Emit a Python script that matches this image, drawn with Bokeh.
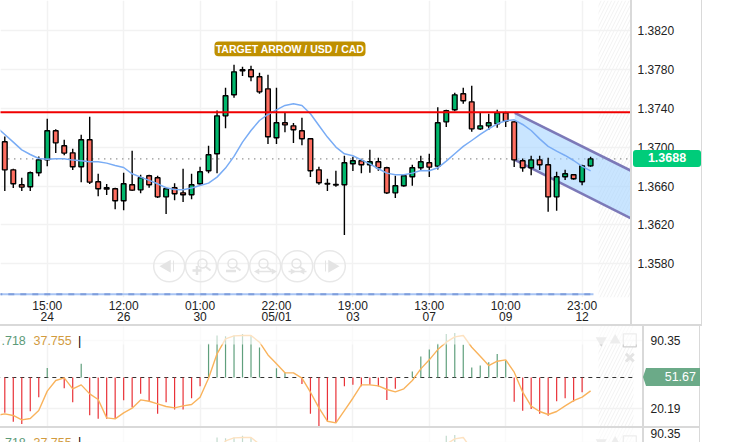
from bokeh.plotting import figure
from bokeh.embed import file_html
from bokeh.resources import INLINE
from bokeh.models import Range1d, FixedTicker, NumeralTickFormatter, BoxAnnotation, Label, Div

highs = [1.37111,1.36778,1.36685,1.36750,1.36905,1.37293,1.37186,1.37076,1.36984,1.37128,
         1.37313,1.36726,1.36620,1.36582,1.36737,1.36963,1.36716,1.36716,1.36706,1.36582,
         1.36630,1.36778,1.36726,1.36798,1.37015,1.37378,1.37612,1.37849,1.37828,1.37838,
         1.37766,1.37746,1.37612,1.37351,1.37248,1.37303,1.37093,1.36798,1.36675,1.36757,
         1.36912,1.36901,1.36881,1.36973,1.36891,1.36798,1.36706,1.36716,1.36819,1.36912,
         1.36932,1.37412,1.37385,1.37560,1.37612,1.37632,1.37354,1.37344,1.37385,1.37364,
         1.37268,1.36884,1.36911,1.36911,1.36891,1.36747,1.36767,1.36716,1.36819,1.36901]
lows = [1.36548,1.36579,1.36548,1.36548,1.36702,1.36805,1.36939,1.36918,1.36764,1.36640,
        1.36620,1.36496,1.36507,1.36362,1.36352,1.36548,1.36527,1.36582,1.36476,1.36311,
        1.36455,1.36435,1.36465,1.36613,1.36733,1.36733,1.37196,1.37509,1.37732,1.37680,
        1.37550,1.37032,1.37032,1.37155,1.37042,1.37021,1.36692,1.36613,1.36548,1.36592,
        1.36095,1.36754,1.36733,1.36737,1.36757,1.36517,1.36476,1.36592,1.36603,1.36757,
        1.36692,1.36771,1.37207,1.37371,1.37447,1.37159,1.37176,1.37176,1.37200,1.37207,
        1.36795,1.36747,1.36712,1.36764,1.36335,1.36345,1.36661,1.36664,1.36609,1.36798]
opens = [1.37056,1.36767,1.36613,1.36592,1.36737,1.36870,1.37169,1.37015,1.36942,1.36798,
         1.37076,1.36644,1.36582,1.36572,1.36448,1.36613,1.36561,1.36706,1.36685,1.36489,
         1.36582,1.36530,1.36510,1.36623,1.36757,1.36932,1.37323,1.37540,1.37797,1.37797,
         1.37725,1.37601,1.37097,1.37251,1.37220,1.37169,1.37087,1.36767,1.36627,1.36616,
         1.36613,1.36829,1.36860,1.36819,1.36850,1.36788,1.36530,1.36603,1.36695,1.36788,
         1.36840,1.36805,1.37261,1.37385,1.37550,1.37467,1.37189,1.37220,1.37241,1.37354,
         1.37261,1.36860,1.36788,1.36870,1.36819,1.36489,1.36695,1.36716,1.36644,1.36808]
closes = [1.36767,1.36623,1.36589,1.36737,1.36870,1.37169,1.37045,1.36939,1.36798,1.37076,
          1.36640,1.36572,1.36568,1.36448,1.36623,1.36558,1.36685,1.36613,1.36489,1.36572,
          1.36520,1.36510,1.36613,1.36747,1.36922,1.37323,1.37529,1.37776,1.37787,1.37725,
          1.37570,1.37107,1.37251,1.37230,1.37179,1.37087,1.36757,1.36634,1.36620,1.36610,
          1.36840,1.36860,1.36819,1.36850,1.36788,1.36530,1.36603,1.36706,1.36788,1.36850,
          1.36795,1.37251,1.37375,1.37539,1.37478,1.37189,1.37220,1.37251,1.37354,1.37268,
          1.36870,1.36788,1.36870,1.36819,1.36489,1.36695,1.36726,1.36675,1.36808,1.36880]
moving_avg = [1.37210,1.37131,1.37052,1.36973,1.36925,1.36884,1.36877,1.36881,1.36881,1.36867,1.36860,
              1.36850,1.36850,1.36836,1.36812,1.36791,1.36726,1.36692,1.36658,1.36623,1.36582,
              1.36565,1.36561,1.36579,1.36606,1.36630,1.36692,1.36785,1.36905,1.37052,1.37172,
              1.37275,1.37337,1.37385,1.37430,1.37447,1.37430,1.37344,1.37224,1.37104,1.37001,
              1.36932,1.36912,1.36870,1.36829,1.36778,1.36733,1.36716,1.36716,1.36733,1.36760,
              1.36757,1.36788,1.36856,1.36932,1.37008,1.37069,1.37131,1.37189,1.37241,1.37272,
              1.37282,1.37234,1.37172,1.37086,1.37008,1.36959,1.36915,1.36863,1.36802,1.36757]
oscillator = [15.2,6.0,3.8,16.9,31.4,61.6,51.67,40.6,26.2,65.8,
              12.8,9.0,9.0,9.0,28.3,21.1,34.8,27.2,14.2,26.2,
              18.6,18.6,30.3,42.7,86.4,95.0,94.3,95.0,96.7,95.0,
              82.6,51.67,61.3,57.2,51.67,45.1,14.2,1.4,6.3,5.6,
              42.7,44.1,42.7,44.1,42.4,28.6,40.0,51.67,57.8,73.3,
              80.5,86.4,96.7,97.7,85.4,62.0,64.0,67.5,76.0,69.2,
              26.6,17.3,19.3,14.2,12.1,27.2,30.3,26.9,36.5,51.67]
signal = [12.5,14.2,12.5,8.0,9.4,17.6,37.6,48.6,51.3,40.0,44.1,
          34.8,29.0,10.0,9.0,15.2,20.0,28.6,27.2,24.5,21.8,
          20.4,22.4,23.8,31.4,51.0,76.1,91.6,94.6,95.0,95.0,
          88.1,75.0,65.8,56.5,56.5,51.0,36.5,20.4,6.6,4.9,
          17.6,30.3,44.1,44.1,43.1,39.3,36.9,40.0,48.6,60.6,
          69.9,80.5,88.1,93.6,95.0,82.9,73.7,64.0,68.5,69.9,
          57.2,36.5,22.1,16.6,13.5,16.6,22.4,27.9,31.4,37.9]
time_ticks = [5, 14, 23, 32, 41, 50, 59, 68]
time_labels = ["15:00\n24", "12:00\n26", "01:00\n30", "22:00\n05/01", "19:00\n03", "13:00\n07", "10:00\n09", "23:00\n12"]
price_ticks = [1.3820, 1.3780, 1.3740, 1.3700, 1.3660, 1.3620, 1.3580]
osc_ticks = [90.35, 20.19]
title_text = "TARGET ARROW / USD / CAD"
last_price = 1.3688
last_price_text = "1.3688"
osc_last = 51.67
osc_last_text = "51.67"
osc_head_a = ".718"
osc_head_b = "37.755"
level_line = 1.3736
volume_line = 1.35486
chan_idx = [60.07, 73.7]
chan_upper = [1.37354, 1.36760]
chan_lower = [1.36870, 1.36269]

FONT = "Liberation Sans"
GREEN, RED = "#00B76C", "#FF6E60"
GRID = "#F2F2F2"
EDGE = "#D9D9D9"
ICON = "#E4E4E4"

def ix(px):
    return (px - 4.3) / 8.49

def dp(py):  # price at a pixel row of the top panel
    return 1.37 + (146.7 - py) / 9712

def box(p, l, r, t, b, color, alpha=1.0, radius=0):
    a = BoxAnnotation(left=l, right=r, top=t, bottom=b, left_units="canvas", right_units="canvas",
                      top_units="canvas", bottom_units="canvas", fill_color=color, fill_alpha=alpha,
                      line_color=None, border_radius=radius, level="overlay")
    p.add_layout(a)
    return a

def place(obj, left, top):
    obj.styles = {"position": "absolute", "left": f"{left}px", "top": f"{top}px"}

def rect_div(l, t, w, h, color, extra=None, text=""):
    st = {"position": "absolute", "left": f"{l}px", "top": f"{t}px", "width": f"{w}px", "height": f"{h}px",
          "background": color}
    if extra:
        st.update(extra)
    return Div(text=text, width=w, height=h, margin=0, styles=st)

def right_axis(p, ticks, standoff):
    ax = p.yaxis[0]
    ax.ticker = FixedTicker(ticks=ticks)
    ax.axis_line_color = None
    ax.major_tick_line_color = None
    ax.minor_tick_line_color = None
    ax.major_tick_out = 0
    ax.major_tick_in = 0
    ax.major_label_text_font = FONT
    ax.major_label_text_font_size = "12px"
    ax.major_label_text_color = "#222222"
    ax.major_label_standoff = standoff

# ---------- price panel ----------
p1 = figure(frame_width=630, frame_height=297, x_range=Range1d(-0.506, 73.70), y_range=Range1d(dp(297), dp(0)),
            output_backend="svg", toolbar_location=None, y_axis_location="right",
            min_border_left=0, min_border_top=0, min_border_right=72, min_border_bottom=29)
place(p1, 0, 0)
p1.outline_line_color = None
right_axis(p1, price_ticks, 7)
p1.yaxis[0].formatter = NumeralTickFormatter(format="0.0000")
xa = p1.xaxis[0]
xa.ticker = FixedTicker(ticks=time_ticks)
xa.major_label_overrides = dict(zip(time_ticks, time_labels))
xa.axis_line_color = None
xa.major_tick_line_color = None
xa.minor_tick_line_color = None
xa.major_tick_out = 0
xa.major_tick_in = 0
xa.major_label_text_font = FONT
xa.major_label_text_font_size = "12px"
xa.major_label_text_color = "#222222"
xa.major_label_text_line_height = 0.82
xa.major_label_standoff = 1
p1.xgrid.ticker = FixedTicker(ticks=time_ticks)
p1.ygrid.ticker = FixedTicker(ticks=price_ticks)
p1.grid.grid_line_color = GRID
p1.grid.grid_line_width = 1.5

# hatched right-hand zone
p1.quad(left=[ix(598)], right=[ix(631)], bottom=[dp(297)], top=[dp(0)], fill_color=None, line_color=None,
        hatch_pattern="right_diagonal_line", hatch_color="#F2F2F2", hatch_weight=1, hatch_scale=7)

# navigation buttons
nav_x = [ix(168.7), ix(200.5), ix(232.7), ix(264.7), ix(296.7), ix(329.3)]
nav_y = dp(265.7)
p1.scatter(nav_x, [nav_y]*6, marker="circle", size=31, fill_color=None, line_color="#E8E8E8", line_width=1.5)
p1.scatter([ix(166.5)], [nav_y], marker="triangle", size=13, angle=1.5708, fill_color=ICON, line_color=None)
p1.scatter([ix(331.5)], [nav_y], marker="triangle", size=13, angle=-1.5708, fill_color=ICON, line_color=None)
p1.segment([ix(173)], [dp(260)], [ix(173)], [dp(271)], line_color=ICON, line_width=1)
p1.segment([ix(325)], [dp(260)], [ix(325)], [dp(271)], line_color=ICON, line_width=1)
mag = [(202, 263), (232, 263), (263, 263), (296, 263)]
for mx, my in mag:
    p1.scatter([ix(mx)], [dp(my)], marker="circle", size=9, fill_color=None, line_color=ICON, line_width=1.5)
    p1.segment([ix(mx + 3)], [dp(my + 3)], [ix(mx + 8)], [dp(my + 7)], line_color=ICON, line_width=2)
p1.scatter([ix(196.5)], [dp(270)], marker="cross", size=9, line_color=ICON, line_width=2.5)
p1.scatter([ix(230.5)], [dp(270.5)], marker="dash", size=10, line_color=ICON, line_width=2.5)
for cx in (265, 297):
    p1.segment([ix(cx - 9)], [dp(271)], [ix(cx + 9)], [dp(271)], line_color=ICON, line_width=1.5)
p1.scatter([ix(257), ix(273)], [dp(271)]*2, marker="triangle", size=6, angle=[1.5708, -1.5708], fill_color=ICON, line_color=None)
p1.scatter([ix(292), ix(302)], [dp(271)]*2, marker="triangle", size=6, angle=[-1.5708, 1.5708], fill_color=ICON, line_color=None)

# last-price and volume lines
p1.line([-1, 75], [last_price, last_price], line_color="#666666", line_width=1.2, line_dash="1 5")
p1.line([-1, ix(593)], [volume_line, volume_line], line_color="#A9C5F4", line_width=2)
p1.line([-1, ix(593)], [volume_line, volume_line], line_color="#7F9EDC", line_width=2, line_dash="6 6")

# channel (beneath the candles)
p1.varea(x=chan_idx, y1=chan_lower, y2=chan_upper, fill_color="#A5D4FF", fill_alpha=0.6)
p1.line(chan_idx, chan_upper, line_color="#7C79B8", line_width=2.6)
p1.line(chan_idx, chan_lower, line_color="#7C79B8", line_width=2.6)

# candles
idx = list(range(len(opens)))
up = [c >= o for o, c in zip(opens, closes)]
p1.segment(idx, highs, idx, lows, line_color="black", line_width=1.4)
p1.vbar(x=idx, top=[max(o, c) for o, c in zip(opens, closes)], bottom=[min(o, c) for o, c in zip(opens, closes)],
        width=0.55, fill_color=[GREEN if u else RED for u in up], line_color="black", line_width=1.4)

# moving average
p1.line(list(range(-1, 70)), moving_avg, line_color="#79ACF5", line_width=1.5, line_join="round")

# level
p1.line([-1, 75], [level_line, level_line], line_color="#F00000", line_width=2.2)

box(p1, 214, 365, 41, 55.7, "#BF9000", radius=4)
p1.add_layout(Label(x=ix(289.5), y=dp(48.6), text=title_text, text_align="center", text_baseline="middle",
                    text_color="white", text_font=FONT, text_font_style="bold", text_font_size="10.5px", level="overlay"))

# ---------- oscillator panels ----------
def osc_panel(h, y0, y1, top):
    p = figure(width=700, height=h, frame_width=643, frame_height=h, x_range=Range1d(-0.506, ix(643)), y_range=Range1d(y0, y1),
               output_backend="svg", toolbar_location=None, y_axis_location="right",
               min_border_left=0, min_border_top=0, min_border_right=57, min_border_bottom=0)
    place(p, 0, top)
    p.outline_line_color = None
    p.xaxis.visible = False
    right_axis(p, osc_ticks, 7)
    p.xgrid.ticker = FixedTicker(ticks=time_ticks)
    p.ygrid.ticker = FixedTicker(ticks=osc_ticks)
    p.grid.grid_line_color = GRID
    p.grid.grid_line_width = 1.5
    p.quad(left=[ix(598)], right=[ix(633)], bottom=[y0 - 5], top=[y1 + 5], fill_color=None, line_color=None,
           hatch_pattern="right_diagonal_line", hatch_color="#F2F2F2", hatch_weight=1, hatch_scale=7)
    p.line([-1, ix(632)], [osc_last, osc_last], line_color="#333333", line_width=1.2, line_dash="4 4")
    p.segment(idx, [osc_last]*len(idx), idx, oscillator, line_width=1.2,
              line_color=["#5F9F7C" if v > osc_last else "#E93238" for v in oscillator])
    p.line(list(range(-1, 70)), signal, line_color="#F9B35C", line_width=1.4, line_join="round")
    p.scatter([ix(600.7)], [90.0], marker="inverted_triangle", size=11, fill_color="#CFCFCF", line_color=None)
    p.scatter([ix(614.7)], [90.0], marker="triangle", size=11, fill_color="#CFCFCF", line_color=None)
    p.scatter([ix(629.3)], [90.0], marker="square", size=13, fill_color=None, line_color="#CFCFCF", line_width=1.3)
    p.scatter([ix(629.3)], [72.2], marker="x", size=11, line_color=ICON, line_width=3)
    box(p, 0, 643, 0, 18, "white", alpha=0.62)
    head_y = y1 - 14 * 1.0318
    p.add_layout(Label(x=ix(25.3), y=head_y, text=osc_head_a, text_align="right", text_baseline="middle", level="overlay",
                       text_color="#5C9A78", text_font=FONT, text_font_size="12.5px"))
    p.add_layout(Label(x=ix(33), y=head_y, text=osc_head_b, text_align="left", text_baseline="middle", level="overlay",
                       text_color="#D29B3E", text_font=FONT, text_font_size="12.5px"))
    p.add_layout(Label(x=ix(77.5), y=head_y, text="|", text_align="left", text_baseline="middle", level="overlay",
                       text_color="black", text_font=FONT, text_font_size="12.5px"))
    return p

p2 = osc_panel(101, 0.10, 104.31, 326)
p3 = osc_panel(14, 89.86, 104.31, 428)

edges = [
    rect_div(630, 0, 2, 326, EDGE),
    rect_div(701, 0, 1, 326, EDGE),
    rect_div(0, 324, 702, 2, EDGE),
    rect_div(642, 326, 2, 116, EDGE),
    rect_div(699, 326, 1, 116, EDGE),
    rect_div(0, 426, 700, 2, EDGE),
    rect_div(643, 368, 3, 18, "#6BAA88", {"clip-path": "polygon(0 50%, 100% 0, 100% 100%)"}),
    rect_div(633, 150, 68, 17, "#00CC7A",
             {"border-radius": "3px", "color": "white", "font-family": FONT, "font-weight": "bold",
              "font-size": "12.5px", "line-height": "17px", "text-align": "center"}, last_price_text),
    rect_div(646, 368, 54, 18, "#6BAA88",
             {"color": "white", "font-family": FONT, "font-size": "12.5px", "line-height": "18px",
              "text-align": "right", "padding-right": "4px", "box-sizing": "border-box"}, osc_last_text),
]
open("out.html", "w").write(file_html([p1, p2, p3] + edges, INLINE))
